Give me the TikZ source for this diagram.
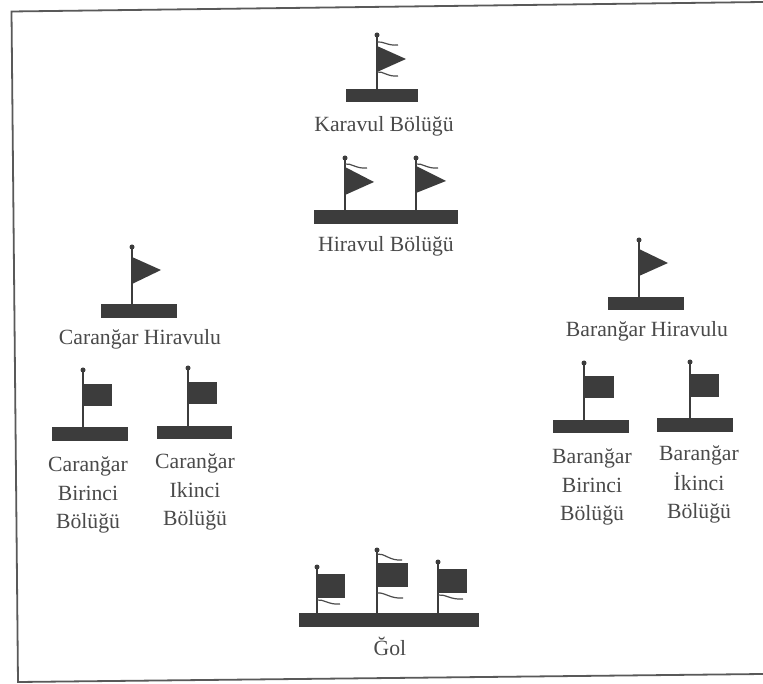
\documentclass[tikz,border=0pt]{standalone}
\usepackage{fontspec}
\setmainfont{Liberation Serif}
\definecolor{ink}{HTML}{3C3C3C}
\definecolor{txt}{HTML}{4A4A4A}
\tikzset{
  x=1pt,y=-1pt,
  frameline/.style={draw=black!65,line width=1.8pt},
  bar/.style={fill=ink,draw=none,inner sep=0pt,outer sep=0pt,rectangle},
  pole/.style={draw=ink,line width=1.6pt},
  knob/.style={fill=ink,draw=none,circle,inner sep=0pt,minimum size=5pt},
  flagcloth/.style={fill=ink,draw=none},
  streamer/.style={draw=black!70,line width=1.2pt},
  lbl/.style={text=txt,font=\fontsize{21.7}{22}\selectfont,anchor=base,inner sep=0pt},
}
% \barbox{name}{x1}{y1}{x2}{y2}
\newcommand{\barbox}[5]{\node[bar,minimum width=#4pt-#2pt,minimum height=#5pt-#3pt] (#1) at ({(#2+#4)/2},{(#3+#5)/2}) {};}
% \staff{name}{x}{top}{bar}
\newcommand{\staff}[4]{\node[knob] (#1) at (#2,#3) {};\draw[pole] (#1.center) -- (#1.center |- #4.north);}
% \penn{x}{y1}{tipx}{tipy}{y2}
\newcommand{\penn}[5]{\fill[flagcloth] (#1,#2) -- (#3,#4) -- (#1,#5) -- cycle;}
% \sqflag{x1}{y1}{x2}{y2}
\newcommand{\sqflag}[4]{\fill[flagcloth] (#1,#2) rectangle (#3,#4);}
% \wave{x}{y}{len}{drop}
\newcommand{\wave}[4]{\draw[streamer] (#1,#2) .. controls ({#1+#3*0.3},{#2-1}) and ({#1+#3*0.5},{#2+#4+1}) .. ({#1+#3},{#2+#4});}
\begin{document}
\begin{tikzpicture}
\useasboundingbox (0,0) rectangle (763,684);
\fill[white] (0,0) rectangle (763,684);
\coordinate (fa) at (763,2);
\coordinate (fb) at (11.5,11.5);
\coordinate (fc) at (18,682);
\coordinate (fd) at (763,674);
\draw[frameline] (fa) -- (fb) -- (fc) -- (fd);

% Karavul
\barbox{kb}{346}{89}{418}{102}
\staff{kp}{377}{35}{kb}
\penn{377}{46}{406}{59}{72}
\wave{377}{42}{21}{3}
\wave{377}{72}{21}{4}
\node[lbl] (kl) at (384,132) {Karavul Bölüğü};

% Hiravul
\barbox{hb}{314}{210}{458}{224}
\staff{hp1}{345}{158}{hb}
\staff{hp2}{416}{158}{hb}
\penn{345}{167}{374}{182}{195}
\penn{416}{166}{446}{181}{193}
\wave{345}{164}{22}{4}
\wave{416}{164}{22}{4}
\node[lbl] (hl) at (386,252) {Hiravul Bölüğü};

% Caranğar Hiravulu
\barbox{chb}{101}{304}{177}{318}
\staff{chp}{132}{247}{chb}
\penn{132}{257}{161}{270}{284}
\node[lbl] (chl) at (140,345) {Caranğar Hiravulu};

% Caranğar Birinci
\barbox{c1b}{52}{427}{128}{441}
\staff{c1p}{83}{370}{c1b}
\sqflag{83}{384}{112}{406}
\node[lbl] (c1a) at (88,471) {Caranğar};
\node[lbl] (c1c) at (88,500) {Birinci};
\node[lbl] (c1d) at (88,528) {Bölüğü};

% Caranğar Ikinci
\barbox{c2b}{157}{426}{232}{439}
\staff{c2p}{188}{368}{c2b}
\sqflag{188}{382}{217}{404}
\node[lbl] (c2a) at (195,468) {Caranğar};
\node[lbl] (c2c) at (195,497) {Ikinci};
\node[lbl] (c2d) at (195,525) {Bölüğü};

% Baranğar Hiravulu
\barbox{bhb}{608}{297}{684}{310}
\staff{bhp}{639}{240}{bhb}
\penn{639}{249}{668}{263}{276}
\node[lbl] (bhl) at (647,337) {Baranğar Hiravulu};

% Baranğar Birinci
\barbox{b1b}{553}{420}{629}{433}
\staff{b1p}{584}{363}{b1b}
\sqflag{584}{376}{614}{398}
\node[lbl] (b1a) at (592,463) {Baranğar};
\node[lbl] (b1c) at (592,492) {Birinci};
\node[lbl] (b1d) at (592,520) {Bölüğü};

% Baranğar Ikinci
\barbox{b2b}{657}{418}{733}{432}
\staff{b2p}{690}{362}{b2b}
\sqflag{690}{374}{719}{397}
\node[lbl] (b2a) at (699,460) {Baranğar};
\node[lbl] (b2c) at (699,490) {İkinci};
\node[lbl] (b2d) at (699,518) {Bölüğü};

% Gol
\barbox{gb}{299}{613}{479}{627}
\staff{gp1}{317}{567}{gb}
\staff{gp2}{377}{550}{gb}
\staff{gp3}{438}{562}{gb}
\sqflag{317}{574}{345}{598}
\sqflag{377}{563}{408}{587}
\sqflag{438}{569}{467}{593}
\wave{317}{600}{23}{4}
\wave{377}{554}{25}{6}
\wave{377}{593}{26}{5}
\wave{438}{595}{25}{4}
\node[lbl] (gl) at (390,655) {Ğol};
\end{tikzpicture}
\end{document}
